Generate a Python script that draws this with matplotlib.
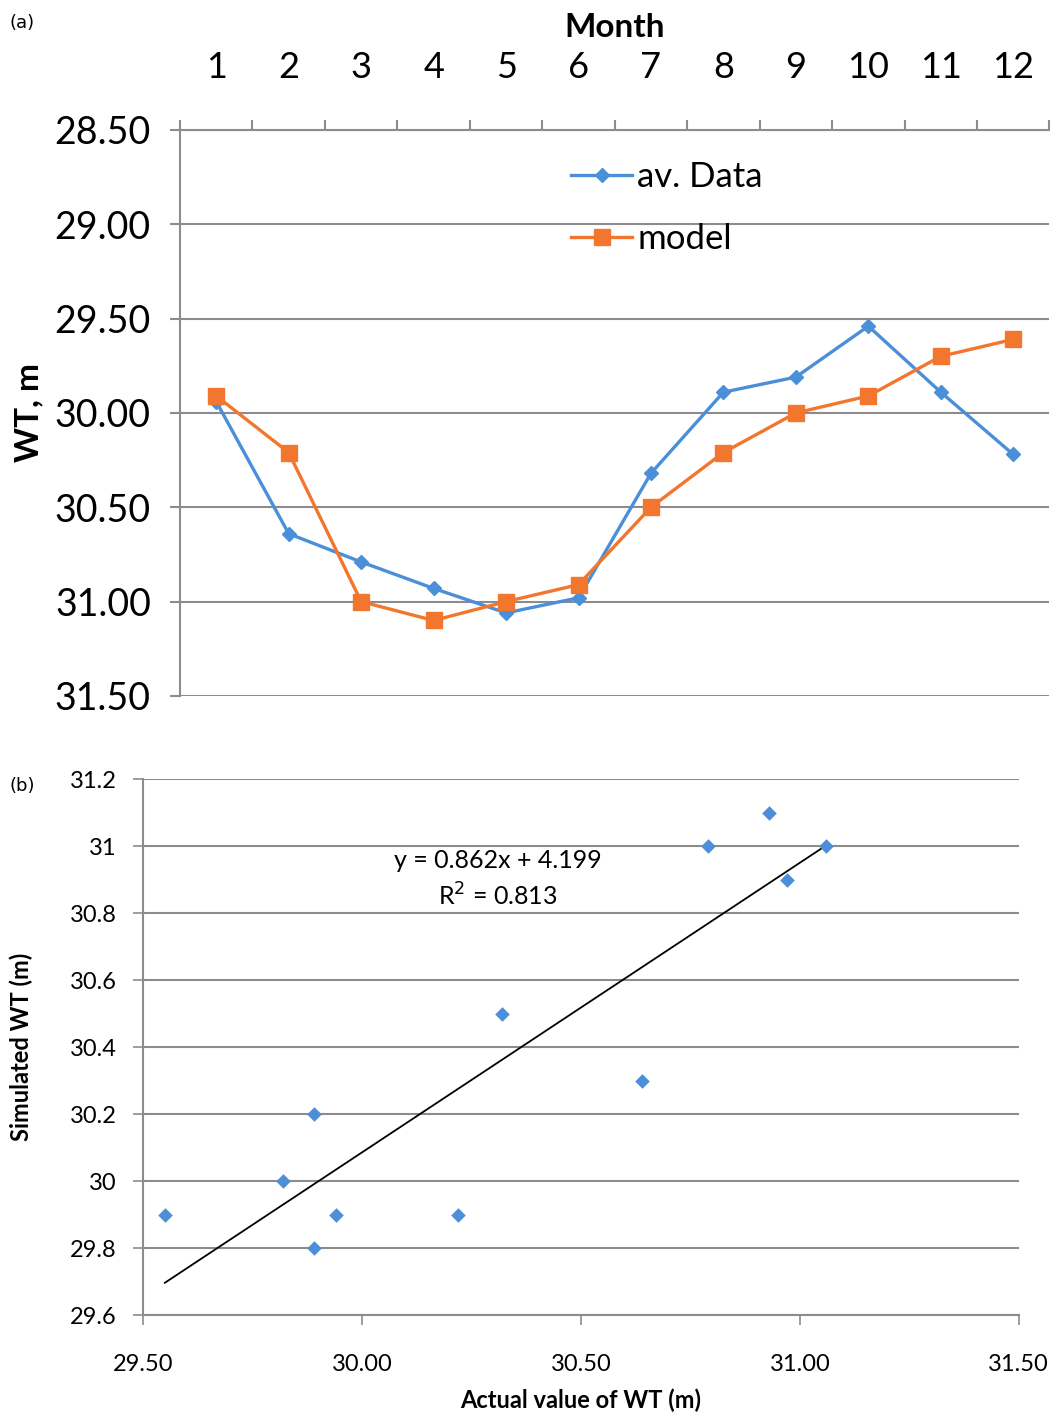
import numpy as np
import matplotlib
matplotlib.use("Agg")
import matplotlib.pyplot as plt

plt.rcParams['font.family'] = ['Lato', 'DejaVu Sans']

# ---- data ----
months = np.arange(1, 13)
av_data = [29.94, 30.64, 30.79, 30.93, 31.06, 30.98, 30.32, 29.89, 29.81, 29.54, 29.89, 30.22]
model = [29.91, 30.21, 31.00, 31.10, 31.00, 30.91, 30.50, 30.21, 30.00, 29.91, 29.70, 29.61]

actual = [29.55, 29.82, 29.89, 29.89, 29.94, 30.22, 30.32, 30.64, 30.79, 30.93, 30.97, 31.06]
simulated = [29.9, 30.0, 30.2, 29.8, 29.9, 29.9, 30.5, 30.3, 31.0, 31.1, 30.9, 31.0]
slope, intercept, r2 = 0.862, 4.199, 0.813

blue = '#4A8FD8'
orange = '#F2762E'
grey = '#8C8C8C'

fig = plt.figure(figsize=(10.59, 14.2), dpi=100, facecolor='w')

# ---- (a) monthly WT ----
ax = fig.add_axes([0.170, 0.5099, 0.821, 0.3986])
ax.plot(months, av_data, color=blue, lw=2.4, marker='D', ms=7.5, label='av. Data', zorder=3)
ax.plot(months, model, color=orange, lw=2.4, marker='s', ms=11, label='model', zorder=3)
ax.set_xlim(0.5, 12.5)
ax.set_ylim(31.5, 28.5)
ax.set_yticks(np.arange(28.5, 31.51, 0.5))
ax.set_yticklabels(['%.2f' % v for v in np.arange(28.5, 31.51, 0.5)])
ax.xaxis.tick_top()
ax.xaxis.set_label_position('top')
ax.set_xticks(months)
ax.set_xticks(np.arange(0.5, 12.6, 1), minor=True)
ax.tick_params(axis='x', which='major', length=0, pad=33, labelsize=26)
ax.tick_params(axis='x', which='minor', length=7, width=1.5, color=grey, direction='out')
ax.tick_params(axis='y', length=7, width=1.5, color=grey, pad=14, labelsize=27)
ax.set_xlabel('Month', fontsize=24, fontweight='bold', labelpad=10)
ax.set_ylabel('WT, m', fontsize=24, fontweight='bold', labelpad=8)
ax.grid(axis='y', color=grey, lw=1.5)
ax.set_axisbelow(True)
for s in ['right', 'bottom']:
    ax.spines[s].set_visible(False)
for s in ['left', 'top']:
    ax.spines[s].set_color(grey)
    ax.spines[s].set_linewidth(1.5)
ax.legend(loc='upper left', bbox_to_anchor=(0.43, 0.975), frameon=False, fontsize=25,
          handlelength=1.75, handletextpad=0.15, labelspacing=0.85, borderpad=0)
fig.text(0.009, 0.980, '(a)', fontsize=13, family='DejaVu Sans')

# ---- (b) scatter ----
bx = fig.add_axes([0.135, 0.0739, 0.827, 0.3775])
bx.scatter(actual, simulated, marker='D', s=55, color=blue, zorder=3, linewidths=0)
fit = np.polyfit(actual, simulated, 1)
xx = np.array([min(actual), max(actual)])
bx.plot(xx, np.polyval(fit, xx), color='k', lw=1.3, zorder=2)
bx.text(30.31, 30.958, 'y = %.3fx + %.3f' % (slope, intercept), fontsize=18,
        ha='center', va='center')
bx.text(30.31, 30.85, 'R$^2$ = %.3f' % r2, fontsize=18, ha='center', va='center')
bx.set_xlim(29.5, 31.5)
bx.set_ylim(29.6, 31.2)
bx.set_xticks(np.arange(29.5, 31.51, 0.5))
bx.set_xticklabels(['%.2f' % v for v in np.arange(29.5, 31.51, 0.5)])
bx.set_yticks(np.arange(29.6, 31.21, 0.2))
bx.set_yticklabels(['%g' % round(v, 1) for v in np.arange(29.6, 31.21, 0.2)])
bx.tick_params(axis='x', length=7, width=1.2, color=grey, pad=21, labelsize=17)
bx.tick_params(axis='y', length=7, width=1.2, color=grey, pad=12, labelsize=17)
bx.set_xlabel('Actual value of WT (m)', fontsize=17, fontweight='bold', labelpad=10)
bx.set_ylabel('Simulated WT (m)', fontsize=17, fontweight='bold', labelpad=26)
bx.grid(axis='y', color=grey, lw=1.5)
bx.set_axisbelow(True)
for s in ['right', 'top']:
    bx.spines[s].set_visible(False)
for s in ['left', 'bottom']:
    bx.spines[s].set_color(grey)
    bx.spines[s].set_linewidth(1.5)
fig.text(0.009, 0.443, '(b)', fontsize=13, family='DejaVu Sans')

fig.savefig('out.png', dpi=100)
